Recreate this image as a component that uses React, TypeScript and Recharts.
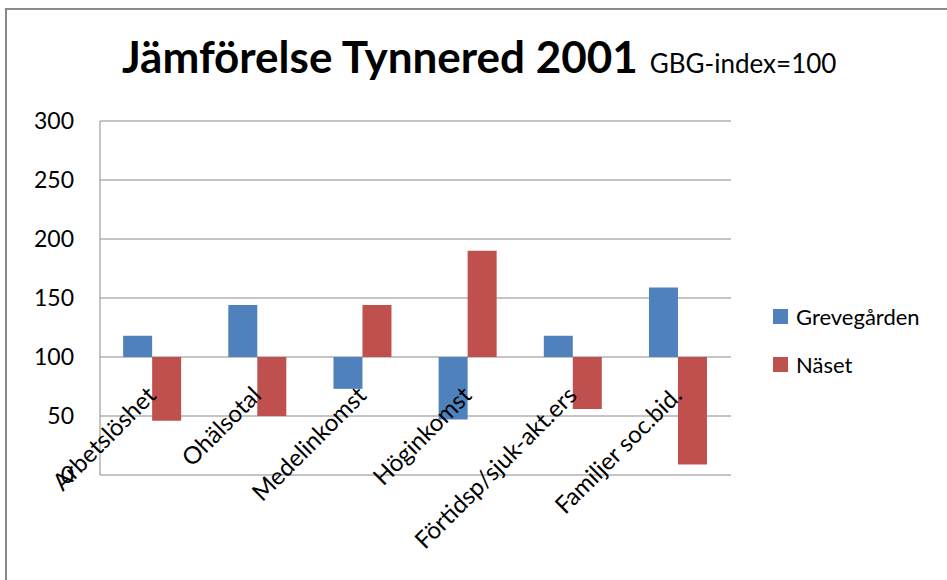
import { BarChart, Bar, XAxis, YAxis, CartesianGrid } from 'recharts';

const categories = ['Arbetslöshet', 'Ohälsotal', 'Medelinkomst', 'Höginkomst', 'Förtidsp/sjuk-akt.ers', 'Familjer soc.bid.'];
const grevegarden = [118, 144, 73, 47, 118, 159];
const naset = [46, 50, 144, 190, 56, 9];
const yTicks = [0, 50, 100, 150, 200, 250, 300];
const BASE = 100;

const data = categories.map((name, i) => ({
  name,
  Grevegården: [BASE, grevegarden[i]],
  Näset: [BASE, naset[i]],
}));

const FONT = 'Lato, "Open Sans", sans-serif';

function CategoryTick({ x, y, payload }: any) {
  return (
    <text
      transform={`translate(${x + 5}, ${y - 86}) rotate(-45)`}
      textAnchor="end"
      fontSize={24}
      fontFamily={FONT}
      fill="#000"
    >
      {payload.value}
    </text>
  );
}

const legendItems = [
  { label: 'Grevegården', color: '#4F81BD' },
  { label: 'Näset', color: '#C0504D' },
];

export default function App() {
  return (
    <div style={{ position: 'absolute', left: 0, top: 0, width: 947, height: 580, background: '#fff', overflow: 'hidden' }}>
      <div style={{ position: 'absolute', left: 5, top: 8, width: 960, height: 600, borderLeft: '2px solid #8a8a8a', borderTop: '2px solid #8a8a8a' }} />
      <div style={{ position: 'absolute', left: 122, top: 30, whiteSpace: 'nowrap', fontFamily: FONT, color: '#000' }}>
        <span style={{ fontSize: 44, fontWeight: 700 }}>Jämförelse Tynnered 2001</span>
        <span style={{ fontSize: 26, marginLeft: 12 }}>GBG-index=100</span>
      </div>
      <BarChart
        width={947}
        height={580}
        data={data}
        margin={{ top: 121, right: 216, bottom: 0, left: 0 }}
        barCategoryGap="22%"
        barGap={0}
        style={{ position: 'absolute', left: 0, top: 0 }}
      >
        <CartesianGrid vertical={false} stroke="#8a8a8a" />
        <XAxis dataKey="name" height={105} axisLine={false} tickLine={false} tick={<CategoryTick />} interval={0} />
        <YAxis
          width={100}
          domain={[0, 300]}
          ticks={yTicks}
          tickLine={false}
          axisLine={{ stroke: '#8a8a8a' }}
          tickMargin={20}
          tick={{ fontSize: 23, fontFamily: FONT, fill: '#000' }}
        />
        <Bar dataKey="Grevegården" fill="#4F81BD" isAnimationActive={false} />
        <Bar dataKey="Näset" fill="#C0504D" isAnimationActive={false} />
      </BarChart>
      <div style={{ position: 'absolute', left: 773, top: 292, fontFamily: FONT, fontSize: 22 }}>
        {legendItems.map((it) => (
          <div key={it.label} style={{ display: 'flex', alignItems: 'center', height: 48 }}>
            <span style={{ width: 15, height: 15, background: it.color, marginRight: 8, display: 'inline-block' }} />
            <span>{it.label}</span>
          </div>
        ))}
      </div>
    </div>
  );
}
